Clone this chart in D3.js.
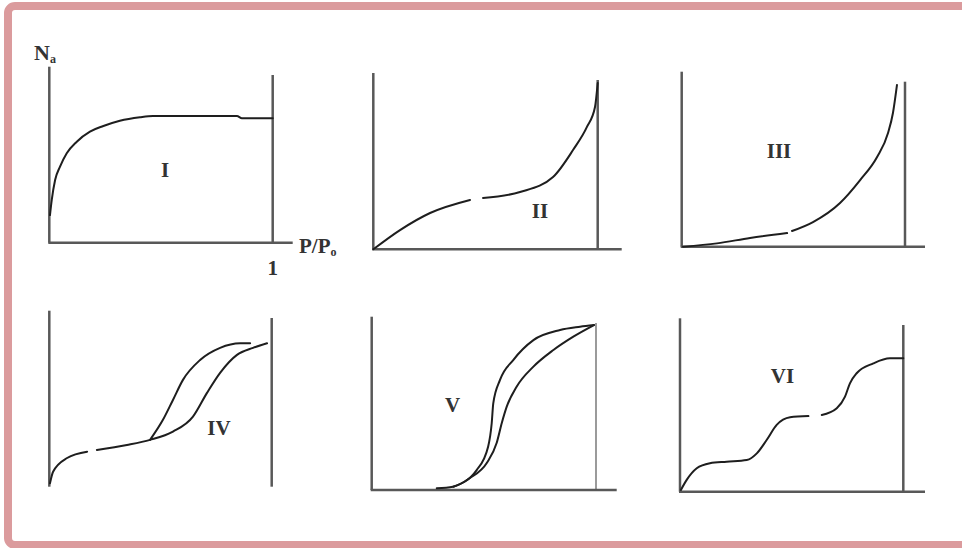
<!DOCTYPE html>
<html>
<head>
<meta charset="utf-8">
<script src="https://cdn.jsdelivr.net/npm/d3@7"></script>
<style>
  html, body { margin: 0; padding: 0; background: #ffffff; }
  svg { display: block; }
</style>
</head>
<body>
<svg id="chart" width="962" height="548"></svg>
<script>
// ---------- DATA (normalised: x = P/P0 from 0 to 1, y = N_a from 0 to 1 of axis height) ----------
const panelLabels = ["I", "II", "III", "IV", "V", "VI"];
const xTickLabels = ["1"];
const yAxisTitle = "N";
const yAxisTitleSub = "a";
const xAxisTitle = "P/P";
const xAxisTitleSub = "o";

// null = small gap in the printed curve
const isothermI = [[0.003,0.157],[0.011,0.243],[0.026,0.356],[0.048,0.432],[0.078,0.508],[0.123,0.574],[0.182,0.631],[0.242,0.663],[0.316,0.693],[0.406,0.713],[0.464,0.72],[0.84,0.72],[0.862,0.707],[1.0,0.707]];
const isothermII = [[0,0],[0.119,0.109],[0.253,0.206],[0.431,0.28],null,[0.489,0.291],[0.654,0.325],[0.801,0.41],[0.89,0.563],[0.952,0.694],[0.988,0.807],[1.0,0.943]];
const isothermIII = [[0.006,0],[0.158,0.019],[0.306,0.05],[0.472,0.078],null,[0.494,0.09],[0.588,0.141],[0.709,0.25],[0.799,0.381],[0.875,0.513],[0.924,0.65],[0.946,0.764],[0.964,0.924]];
const isothermIVads = [[0.003,0.019],[0.017,0.085],[0.08,0.163],[0.17,0.199],null,[0.214,0.209],[0.349,0.237],[0.453,0.266],[0.556,0.313],[0.646,0.398],[0.709,0.533],[0.768,0.647],[0.844,0.749],[0.916,0.789],[0.979,0.815]];
const isothermIVdes = [[0.453,0.266],[0.511,0.38],[0.556,0.493],[0.601,0.607],[0.678,0.72],[0.768,0.789],[0.858,0.815],[0.903,0.815]];
const isothermVads = [[0.29,0.01],[0.362,0.019],[0.438,0.069],[0.513,0.156],[0.557,0.271],[0.58,0.387],[0.602,0.481],[0.646,0.596],[0.721,0.712],[0.81,0.808],[0.899,0.885],[0.991,0.952]];
const isothermVdes = [[0.364,0.019],[0.468,0.115],[0.519,0.25],[0.535,0.385],[0.542,0.5],[0.572,0.635],[0.631,0.75],[0.721,0.865],[0.84,0.923],[0.929,0.942],[0.991,0.952]];
const isothermVI = [[0.004,0.01],[0.03,0.068],[0.075,0.135],[0.134,0.164],[0.209,0.173],[0.299,0.183],[0.344,0.221],[0.388,0.298],[0.433,0.385],[0.493,0.429],[0.575,0.436],null,[0.635,0.442],[0.702,0.481],[0.739,0.548],[0.761,0.625],[0.791,0.683],[0.866,0.74],[0.94,0.769],[1.0,0.769]];

const panelCurves = [
  [isothermI],
  [isothermII],
  [isothermIII],
  [isothermIVads, isothermIVdes],
  [isothermVads, isothermVdes],
  [isothermVI]
];

// ---------- LAYOUT ----------
const panels = [
  { x0: 49.3, x1: 272.7, xEnd: 292.7, yB: 242.7, yT: 66.7, rTop: 75,   xAxis: true,  rightW: 2.5, lab: [165, 177] },
  { x0: 373.3, x1: 597.7, xEnd: 621.7, yB: 249.3, yT: 73,  rTop: 80,   xAxis: true,  rightW: 2.5, lab: [540, 218] },
  { x0: 681.7, x1: 905,   xEnd: 925,   yB: 246.7, yT: 71.7, rTop: 81.7, xAxis: true, rightW: 2.5, lab: [779, 158] },
  { x0: 49.3, x1: 271.7, xEnd: 271.7, yB: 486.7, yT: 310.7, rTop: 318, xAxis: false, rightW: 2.5, lab: [219, 435] },
  { x0: 371.7, x1: 596,  xEnd: 616.7, yB: 490,   yT: 316.7, rTop: 323, xAxis: true,  rightW: 1.2, lab: [452.5, 412] },
  { x0: 680,  x1: 903.3, xEnd: 925,   yB: 491.7, yT: 318.3, rTop: 325, xAxis: true,  rightW: 2.5, lab: [782.5, 383] }
];

const svg = d3.select("#chart");
const FONT = "'Liberation Serif', 'DejaVu Serif', serif";
const AXIS = "#585858";
const INK = "#1e1e1e";
const TXT = "#333333";

// frame
svg.append("rect")
  .attr("x", 8).attr("y", 6)
  .attr("width", 1000).attr("height", 539)
  .attr("rx", 7)
  .attr("fill", "none")
  .attr("stroke", "#db9b9d")
  .attr("stroke-width", 8);

panels.forEach((p, i) => {
  const x = d3.scaleLinear().domain([0, 1]).range([p.x0, p.x1]);
  const y = d3.scaleLinear().domain([0, 1]).range([p.yB, p.yT]);
  const g = svg.append("g");

  // y axis (left)
  g.append("line")
    .attr("x1", x(0)).attr("x2", x(0))
    .attr("y1", y(1)).attr("y2", y(0))
    .attr("stroke", AXIS).attr("stroke-width", 2.5);
  // x axis
  if (p.xAxis) {
    g.append("line")
      .attr("x1", x(0) - 1).attr("x2", p.xEnd)
      .attr("y1", y(0)).attr("y2", y(0))
      .attr("stroke", AXIS).attr("stroke-width", 2.5);
  }
  // right vertical line at P/P0 = 1
  g.append("line")
    .attr("x1", x(1)).attr("x2", x(1))
    .attr("y1", p.rTop).attr("y2", y(0))
    .attr("stroke", AXIS).attr("stroke-width", p.rightW);

  const line = d3.line()
    .defined(d => d !== null)
    .x(d => x(d[0]))
    .y(d => y(d[1]))
    .curve(d3.curveMonotoneX);

  panelCurves[i].forEach(c => {
    g.append("path")
      .attr("d", line(c))
      .attr("fill", "none")
      .attr("stroke", INK)
      .attr("stroke-width", 2)
      .attr("stroke-linecap", "round");
  });

  g.append("text")
    .attr("x", p.lab[0]).attr("y", p.lab[1])
    .attr("text-anchor", "middle")
    .attr("font-family", FONT)
    .attr("font-weight", "bold")
    .attr("font-size", 21)
    .attr("fill", TXT)
    .text(panelLabels[i]);

  if (i === 0) {
    // axis titles and tick label on first panel
    const yt = g.append("text")
      .attr("x", 34).attr("y", 60)
      .attr("font-family", FONT).attr("font-weight", "bold")
      .attr("font-size", 22).attr("fill", TXT);
    yt.append("tspan").text(yAxisTitle);
    yt.append("tspan").attr("font-size", 12).attr("dy", 3).text(yAxisTitleSub);

    const xt = g.append("text")
      .attr("x", 299).attr("y", 253)
      .attr("font-family", FONT).attr("font-weight", "bold")
      .attr("font-size", 21).attr("fill", TXT);
    xt.append("tspan").text(xAxisTitle);
    xt.append("tspan").attr("font-size", 12).attr("dy", 3).text(xAxisTitleSub);

    g.append("text")
      .attr("x", x(1)).attr("y", 275)
      .attr("text-anchor", "middle")
      .attr("font-family", FONT).attr("font-weight", "bold")
      .attr("font-size", 21).attr("fill", TXT)
      .text(xTickLabels[0]);
  }
});
</script>
</body>
</html>
